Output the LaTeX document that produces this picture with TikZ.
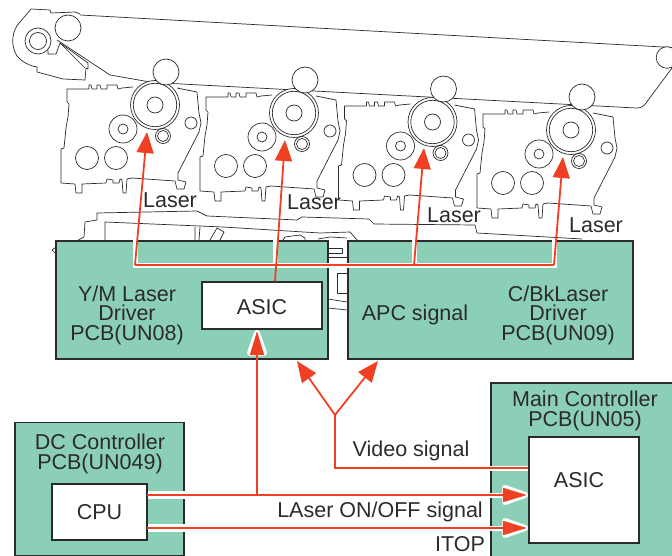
\documentclass[tikz,border=0pt]{standalone}
\usepackage{xcolor}
\usepackage{fontspec}
\setmainfont{Liberation Sans}
\usetikzlibrary{arrows.meta,positioning}
\definecolor{boardgreen}{HTML}{8BD0B6}
\definecolor{sigred}{HTML}{F04023}
\definecolor{inkgray}{HTML}{2B2B2B}
\tikzset{
  board/.style={draw=inkgray,fill=boardgreen,line width=1.3pt,inner sep=0pt},
  chip/.style={draw=inkgray,fill=white,line width=1.3pt,inner sep=0pt,text=inkgray,font=\fontsize{21.5}{19}\selectfont},
  lbl/.style={text=inkgray,font=\fontsize{21.5}{19.5}\selectfont,align=center,inner sep=0pt},
  mech/.style={draw=inkgray,line width=0.7pt,line join=round},
  roller/.style={mech,fill=white},
  sig/.style={draw=sigred,line width=1.8pt},
  halo/.style={draw=white,line width=5pt},
  halohead/.style={draw=white,fill=white,line width=6pt,line join=round},
  headbig/.style={-{Triangle[length=21pt,width=17pt]},sig},
  headflat/.style={-{Triangle[length=24pt,width=14pt]},sig,shorten >=1.5pt}
}
\begin{document}
\begin{tikzpicture}[x=1pt,y=-1pt]
\useasboundingbox (0,0) rectangle (672,556);
% transfer belt
\draw[mech] (80,15) -- (672,47.5);
\draw[mech] (57,40) -- (110,75) -- (153,82.5) -- (636,108) .. controls (641,108) and (643,107) .. (646,103) -- (672,68);
\draw[roller] (667,57.5) circle (10.8);
\draw[mech] (80,14) -- (75,12) -- (51,13) -- (50,10) -- (31,9) -- (20,22)
  .. controls (12,30) and (10,45) .. (17,56) .. controls (22,62) and (30,66) .. (37,67)
  -- (37,72) -- (63,79) -- (85,80) -- (86,68) -- (88,69) -- (88,63) -- (60,43) -- (56,54) -- (48,54) -- (48,50);
\draw[mech] (60,43) -- (85,68);
\draw[roller] (68,28) circle (13);
\draw[mech] (38,41) circle (13);
\draw[mech] (38,41) circle (8.5);
% drum units
\foreach \dx/\dy in {0/0,139/8,277.5/17,416/25} {
\begin{scope}[shift={(\dx,\dy)}]
\draw[mech] (133,87) -- (122,88) -- (118,89) -- (117,85) -- (107,85) -- (107,89) -- (101,89) -- (100,85) -- (97,85) -- (97,89) -- (92,89) -- (91,85) -- (89,85) -- (89,89) -- (67,89) -- (67,102) -- (69,104) -- (68,117) -- (66,128) -- (64,148) -- (61,149) -- (61,183) -- (75,184) -- (76,193) -- (82,193) -- (82,184) -- (106,183) -- (107,179) -- (113,180) -- (113,183) -- (119,183) -- (120,179) -- (122,180) -- (123,193) -- (126,193) -- (127,179) -- (132,178) -- (175,181) -- (177,189) -- (184,189) -- (186,182) -- (178,180) -- (178,173) -- (199,132) -- (201,123) -- (199,113) -- (197,92) -- (177,88);
\draw[roller] (155,105) circle (24.5);
\draw[mech] (155,105) circle (21.7);
\draw[mech] (155,105) circle (8);
\draw[roller] (166,72) circle (13);
\draw[mech] (123,129) circle (14);
\draw[mech] (123,129) circle (5);
\draw[mech] (163,136) circle (7.5);
\draw[mech] (163,136) circle (5.5);
\draw[mech] (191,123) circle (6);
\draw[mech] (87,158) circle (11.5);
\draw[mech] (116,158) circle (11.5);
\end{scope}
}
% chassis behind the boards
\draw[mech] (73,243) -- (84,237) -- (85,222) -- (97,220) -- (97,213) -- (197,211) -- (207,216) -- (297,220) -- (302,217) -- (369,219) -- (374,224) -- (475,225) -- (477,233) -- (582,239);
\draw[mech] (105,240) -- (105,222) -- (223,227) -- (320,233) -- (350,232) -- (357,240);
\draw[mech] (195,227) -- (195,240) (200,227) -- (199,240);
\draw[mech] (210,240) -- (217,228) -- (224,232) -- (220,240);
\draw[mech] (283,240) -- (285,237) -- (300,235) -- (305,238) -- (305,240);
\draw[mech] (318,239) -- (330,237) -- (347,238);
\draw[mech] (328,248) -- (342,248) -- (342,253) -- (328,253);
\draw[mech] (328,257) -- (347,257);
\draw[mech] (347,273) -- (337,273) -- (337,293) -- (347,293);
\draw[mech] (328,299) -- (347,302);
\draw[mech] (328,308) -- (347,310);
\draw[mech] (56,247) -- (52,250) -- (56,254);
% boards
\node[board,minimum width=272pt,minimum height=118pt] (ymboard) at (192,300) {};
\node[board,minimum width=285pt,minimum height=118pt] (cbkboard) at (490.5,300) {};
\node[board,minimum width=169pt,minimum height=133pt] (dcboard) at (99.5,489) {};
\node[board,minimum width=200pt,minimum height=190pt] (mainboard) at (591,478) {};
% tip coordinates
\coordinate (laserya) at (147,132);
\coordinate (lasermb) at (285,140);
\coordinate (lasercc) at (424,148);
\coordinate (laserkd) at (563,157);
\coordinate (busa) at (135,265);
\coordinate (busb) at (275,265);
\coordinate (busc) at (414,265);
\coordinate (busd) at (554,265);
\coordinate (fork) at (335,415);
\coordinate (videocorner) at (335,468);
\coordinate (cpuout) at (147,495);
\coordinate (cpuitop) at (147,528);
\coordinate (tapasic) at (257,495);
% white edges over the green
\draw[halo] (busa |- ymboard.north) -- (busa) -- (busd) -- (busd |- cbkboard.north);
\draw[halo] (busb |- ymboard.north) -- (busb);
\draw[halo] (busc |- cbkboard.north) -- (busc);
\draw[halo,line width=8pt] (cpuout) -- (dcboard.east |- cpuout);
\draw[halo,line width=8pt] (cpuitop) -- (dcboard.east |- cpuitop);
\draw[halo] (mainboard.west |- videocorner) -- (529,468);
\draw[halo] (mainboard.west |- cpuout) -- (505,495);
\draw[halo] (mainboard.west |- cpuitop) -- (505,528);
\draw[halohead] (250,353) -- (264,353) -- (257,333) -- cycle;
\draw[halohead] (505,488) -- (505,502) -- (525,495) -- cycle;
\draw[halohead] (505,521) -- (505,535) -- (525,528) -- cycle;
\node[chip,minimum width=120pt,minimum height=47pt,text height=18.4pt] (ymasic) at (262,305.5) {ASIC};
\node[chip,minimum width=95pt,minimum height=56pt] (cpu) at (99.5,512) {CPU};
\node[chip,minimum width=110pt,minimum height=106pt] (mainasic) at (584,490) {};
% signal lines
\draw[sig] (busa) -- (busd);
\draw[headbig] (busa) -- (laserya);
\draw[headbig] (busc) -- (lasercc);
\draw[headbig] (busd) -- (laserkd);
\draw[headbig] (ymasic.north -| busb) -- (lasermb);
\draw[headflat] (tapasic) -- (ymasic.south -| tapasic);
\draw[headflat] (cpuout) -- (mainasic.west |- cpuout);
\draw[headflat] (cpuitop) -- (mainasic.west |- cpuitop);
\draw[sig] (mainasic.west |- videocorner) -- (videocorner) -- (fork);
\draw[headbig] (fork) -- (297,361);
\draw[headbig] (fork) -- (378,361);
% labels
\node[lbl] (lasera) at (170,200) {Laser};
\node[lbl] (laserb) at (314,202) {Laser};
\node[lbl] (laserc) at (454,215) {Laser};
\node[lbl] (laserd) at (596,225) {Laser};
\node[lbl] (ymlabel) at (127,315) {Y/M Laser\\Driver\\PCB(UN08)};
\node[lbl] (cbklabel) at (558,315) {C/BkLaser\\Driver\\PCB(UN09)};
\node[lbl] (apc) at (415,315) {APC signal};
\node[lbl] (dclabel) at (100,454) {DC Controller\\PCB(UN049)};
\node[lbl] (mainlabel) at (585,411) {Main Controller\\PCB(UN05)};
\node[lbl] (asictext) at (579,480) {ASIC};
\node[lbl] (video) at (411,451) {Video signal};
\node[lbl] (onoff) at (380,512) {LAser ON/OFF signal};
\node[lbl] (itop) at (460,544) {ITOP};
\end{tikzpicture}
\end{document}
